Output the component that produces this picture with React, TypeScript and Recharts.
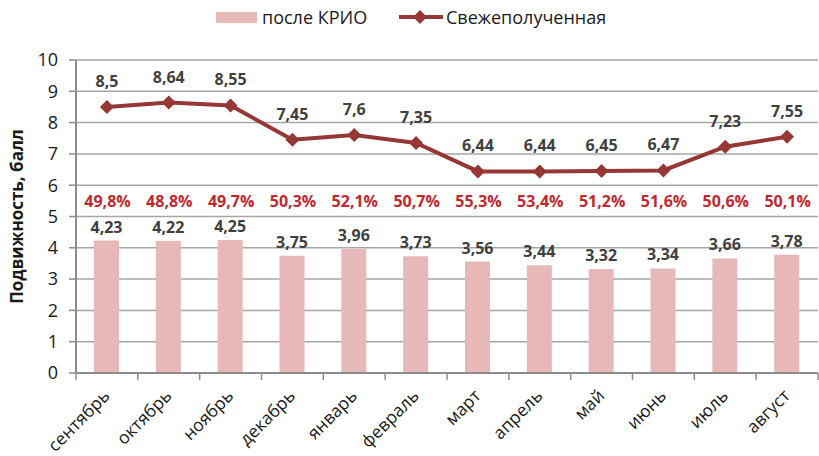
import {
  Bar,
  CartesianGrid,
  ComposedChart,
  LabelList,
  Line,
  XAxis,
  YAxis,
} from 'recharts';

const MONTHS = [
  'сентябрь',
  'октябрь',
  'ноябрь',
  'декабрь',
  'январь',
  'февраль',
  'март',
  'апрель',
  'май',
  'июнь',
  'июль',
  'август',
];
const AFTER_CRYO = [4.23, 4.22, 4.25, 3.75, 3.96, 3.73, 3.56, 3.44, 3.32, 3.34, 3.66, 3.78];
const FRESH = [8.5, 8.64, 8.55, 7.45, 7.6, 7.35, 6.44, 6.44, 6.45, 6.47, 7.23, 7.55];
const RATIO = ['49,8%', '48,8%', '49,7%', '50,3%', '52,1%', '50,7%', '55,3%', '53,4%', '51,2%', '51,6%', '50,6%', '50,1%'];
const Y_TICKS = [0, 1, 2, 3, 4, 5, 6, 7, 8, 9, 10];

const BAR_COLOR = '#e6b9b8';
const LINE_COLOR = '#953735';
const RATIO_COLOR = '#c0282f';
const TEXT = '#404040';
const FONT = '"Open Sans", sans-serif';

const data = MONTHS.map((month, i) => ({
  month,
  after: AFTER_CRYO[i],
  fresh: FRESH[i],
  ratio: RATIO[i],
}));

const comma = (v: number) => String(v).replace('.', ',');

function Diamond({ cx, cy }: any) {
  if (cx == null || cy == null) return null;
  const r = 7;
  return (
    <polygon
      points={`${cx},${cy - r} ${cx + r},${cy} ${cx},${cy + r} ${cx - r},${cy}`}
      fill={LINE_COLOR}
    />
  );
}

function MonthTick({ x, y, payload, index }: any) {
  const half = payload?.offset ?? 30.9;
  const axisY = y - 7;
  const tx = x + 4;
  const ty = axisY + 24;
  return (
    <g>
      <line x1={x - half} x2={x - half} y1={axisY} y2={axisY + 7} stroke="#8c8c8c" strokeWidth={1.5} />
      {index === MONTHS.length - 1 && (
        <line x1={x + half} x2={x + half} y1={axisY} y2={axisY + 7} stroke="#8c8c8c" strokeWidth={1.5} />
      )}
      <text
        x={tx}
        y={ty}
        transform={`rotate(-45 ${tx} ${ty})`}
        textAnchor="end"
        fontSize={17.5}
        fontFamily={FONT}
        fill="#1a1a1a"
      >
        {payload.value}
      </text>
    </g>
  );
}

function BarValue(props: any) {
  const { x, y, width, height, value, index } = props;
  const cx = x + width / 2;
  const unit = height / value;
  const ratioY = y + height - 5.5 * unit;
  return (
    <g fontFamily={FONT} fontWeight={700} fontSize={16} textAnchor="middle">
      <text x={cx} y={y - 8} fill={TEXT}>
        {comma(value)}
      </text>
      <text x={cx + 1} y={ratioY} dominantBaseline="central" fill={RATIO_COLOR}>
        {data[index].ratio}
      </text>
    </g>
  );
}

function LineValue({ x, y, value }: any) {
  return (
    <text x={x} y={y - 20} textAnchor="middle" fontFamily={FONT} fontWeight={700} fontSize={16} fill={TEXT}>
      {comma(value)}
    </text>
  );
}

function AxisTitle({ viewBox }: any) {
  const cy = viewBox.y + viewBox.height / 2;
  return (
    <text
      x={16}
      y={cy}
      transform={`rotate(-90 16 ${cy})`}
      textAnchor="middle"
      dominantBaseline="central"
      fontFamily={FONT}
      fontWeight={700}
      fontSize={17}
      fill="#1a1a1a"
    >
      Подвижность, балл
    </text>
  );
}

function ChartLegend() {
  return (
    <div
      style={{
        position: 'absolute',
        left: 0,
        top: 0,
        width: 819,
        height: 34,
        fontFamily: FONT,
        fontSize: 18,
        color: '#1a1a1a',
      }}
    >
      <div style={{ position: 'absolute', left: 216, top: 12, width: 41, height: 11, background: BAR_COLOR }} />
      <div style={{ position: 'absolute', left: 262, top: 4, lineHeight: '26px' }}>после КРИО</div>
      <svg style={{ position: 'absolute', left: 398, top: 8 }} width={46} height={18}>
        <line x1={1} x2={45} y1={9} y2={9} stroke={LINE_COLOR} strokeWidth={4} />
        <polygon points="22,2 29,9 22,16 15,9" fill={LINE_COLOR} />
      </svg>
      <div style={{ position: 'absolute', left: 446, top: 4, lineHeight: '26px' }}>Свежеполученная</div>
    </div>
  );
}

export default function App() {
  return (
    <div style={{ position: 'absolute', left: 0, top: 0, width: 819, height: 456, background: '#fff' }}>
      <ChartLegend />
      <ComposedChart width={819} height={456} data={data} margin={{ top: 60, right: 1, bottom: 0, left: 0 }}>
        <CartesianGrid vertical={false} stroke="#a6a6a6" strokeWidth={1.5} />
        <XAxis
          dataKey="month"
          height={83}
          interval={0}
          tickLine={false}
          tickSize={7}
          tickMargin={0}
          axisLine={{ stroke: '#8c8c8c', strokeWidth: 2 }}
          tick={<MonthTick />}
        />
        <YAxis
          width={76}
          domain={[0, 10]}
          ticks={Y_TICKS}
          interval={0}
          tickSize={7}
          tickMargin={11}
          axisLine={{ stroke: '#8c8c8c', strokeWidth: 2 }}
          tickLine={{ stroke: '#8c8c8c', strokeWidth: 1.5 }}
          tick={{ fontSize: 18, fontFamily: FONT, fill: '#1a1a1a' }}
          label={<AxisTitle />}
        />
        <Bar dataKey="after" name="после КРИО" fill={BAR_COLOR} barSize={25} isAnimationActive={false}>
          <LabelList dataKey="after" content={<BarValue />} />
        </Bar>
        <Line
          dataKey="fresh"
          name="Свежеполученная"
          stroke={LINE_COLOR}
          strokeWidth={4}
          dot={<Diamond />}
          activeDot={false}
          isAnimationActive={false}
        >
          <LabelList dataKey="fresh" content={<LineValue />} />
        </Line>
      </ComposedChart>
    </div>
  );
}
